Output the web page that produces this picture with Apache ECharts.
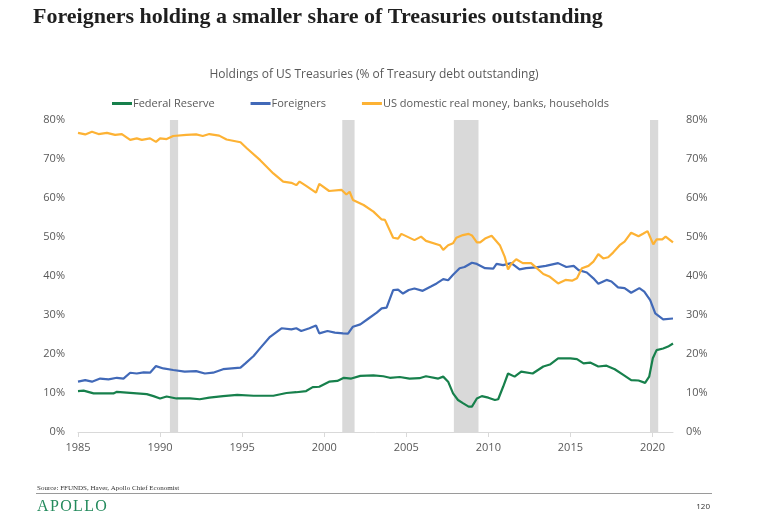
<!DOCTYPE html>
<html>
<head>
<meta charset="utf-8">
<script src="https://cdn.jsdelivr.net/npm/echarts@6/dist/echarts.min.js"></script>
<style>
html,body{margin:0;padding:0;background:#fff;}
#chart{width:768px;height:522px;}
</style>
</head>
<body>
<div id="chart"></div>
<script>
// ---- Data ----
var seriesNames = ['Federal Reserve', 'Foreigners', 'US domestic real money, banks, households'];

var fedYears = [1985.0,1985.34,1985.95,1986.56,1987.16,1987.37,1987.97,1988.58,1989.19,1989.6,1990.0,1990.4,1991.0,1991.82,1992.42,1993.0,1993.84,1994.7,1995.7,1996.9,1997.7,1998.3,1998.9,1999.3,1999.7,2000.3,2000.8,2001.2,2001.65,2002.2,2003.0,2003.6,2004.0,2004.6,2005.2,2005.8,2006.2,2006.95,2007.25,2007.55,2007.85,2008.15,2008.45,2008.8,2009.0,2009.3,2009.6,2010.0,2010.4,2010.6,2010.9,2011.2,2011.6,2012.0,2012.7,2013.35,2013.75,2014.25,2015.0,2015.4,2015.8,2016.2,2016.7,2017.2,2017.7,2018.2,2018.7,2019.15,2019.55,2019.8,2020.02,2020.25,2020.65,2020.95,2021.25];
var fedValues = [10.5,10.6,9.9,9.9,9.9,10.3,10.1,9.9,9.7,9.2,8.6,9.1,8.6,8.6,8.4,8.8,9.2,9.5,9.3,9.3,10.0,10.2,10.5,11.5,11.6,12.9,13.1,13.9,13.7,14.4,14.5,14.3,13.9,14.1,13.7,13.8,14.3,13.7,14.2,12.9,9.9,8.2,7.4,6.5,6.5,8.6,9.2,8.8,8.2,8.4,11.6,15.0,14.2,15.5,15.0,16.8,17.3,18.9,18.9,18.7,17.6,17.8,16.8,17.0,16.1,14.7,13.3,13.2,12.6,14.2,18.9,21.0,21.4,21.9,22.7];

var forYears = [1985.0,1985.44,1985.85,1986.35,1986.86,1987.37,1987.77,1988.18,1988.58,1989.0,1989.39,1989.75,1990.2,1990.8,1991.5,1992.2,1992.73,1993.23,1993.84,1994.9,1995.2,1995.7,1996.1,1996.7,1997.4,1998.0,1998.3,1998.6,1999.1,1999.5,1999.7,2000.2,2000.65,2001.15,2001.45,2001.75,2002.2,2002.7,2003.2,2003.5,2003.8,2004.2,2004.5,2004.8,2005.15,2005.5,2006.0,2006.5,2006.85,2007.25,2007.55,2007.85,2008.25,2008.55,2009.0,2009.3,2009.8,2010.3,2010.5,2010.9,2011.4,2011.9,2012.3,2012.9,2013.5,2014.25,2014.75,2015.2,2015.5,2016.0,2016.4,2016.7,2017.2,2017.5,2017.9,2018.3,2018.7,2019.2,2019.5,2019.86,2020.17,2020.65,2021.25];
var forValues = [12.9,13.3,12.9,13.7,13.5,13.9,13.7,15.2,15.0,15.3,15.2,16.9,16.3,15.9,15.5,15.6,15.0,15.2,16.1,16.5,17.6,19.5,21.5,24.4,26.6,26.3,26.6,25.9,26.6,27.3,25.3,25.9,25.5,25.3,25.2,27.0,27.6,29.1,30.6,31.7,31.9,36.4,36.5,35.5,36.4,36.8,36.2,37.3,38.1,39.2,38.9,40.3,42.0,42.3,43.4,43.1,42.0,41.9,43.1,42.8,43.3,41.7,42.0,42.2,42.6,43.3,42.3,42.6,41.5,40.9,39.4,38.0,39.0,38.6,37.1,36.9,35.7,36.9,36.0,33.8,30.4,28.9,29.1];

var domYears = [1985.0,1985.44,1985.85,1986.25,1986.76,1987.26,1987.67,1988.18,1988.58,1988.89,1989.39,1989.75,1990.0,1990.4,1990.8,1991.6,1992.2,1992.6,1993.0,1993.6,1994.05,1994.9,1995.3,1996.1,1996.9,1997.5,1998.0,1998.3,1998.5,1998.9,1999.5,1999.7,2000.3,2001.05,2001.35,2001.55,2001.75,2002.4,2003.0,2003.5,2003.7,2004.2,2004.5,2004.7,2005.5,2005.9,2006.2,2007.05,2007.25,2007.55,2007.85,2008.05,2008.45,2008.8,2009.0,2009.3,2009.5,2009.8,2010.2,2010.7,2011.0,2011.2,2011.4,2011.7,2012.1,2012.6,2012.9,2013.35,2013.75,2014.25,2014.7,2015.1,2015.4,2015.7,2016.1,2016.4,2016.7,2017.0,2017.3,2017.6,2018.0,2018.3,2018.7,2019.15,2019.45,2019.7,2020.05,2020.25,2020.6,2020.8,2021.25];
var domValues = [76.7,76.3,77.0,76.4,76.7,76.2,76.4,74.9,75.3,74.9,75.3,74.4,75.3,75.1,75.9,76.2,76.3,75.9,76.4,76.0,75.0,74.3,72.7,69.7,66.3,64.2,63.9,63.3,64.2,63.1,61.4,63.6,61.8,62.1,60.9,61.6,59.5,58.2,56.5,54.5,54.4,49.8,49.6,50.8,49.2,50.1,49.0,47.9,46.7,47.9,48.4,49.8,50.5,50.8,50.4,48.6,48.6,49.6,50.3,47.9,44.9,41.7,43.1,44.3,43.3,43.3,42.2,40.5,39.8,38.1,39.0,38.8,39.4,42.0,42.6,43.7,45.6,44.5,44.8,46.0,47.9,48.8,51.1,50.2,50.9,51.5,48.1,49.4,49.4,50.1,48.6];

var recessionStarts = [1990.6, 2001.1, 2007.9, 2019.85];
var recessionEnds   = [1991.1, 2001.85, 2009.4, 2020.35];

var xTickLabels = [1985, 1990, 1995, 2000, 2005, 2010, 2015, 2020];

// ---- Build chart ----
function pairs(xs, ys) { return xs.map(function (x, i) { return [x, ys[i]]; }); }

var colors = ['#17804c', '#4169b8', '#fdb234'];
var font = 'Open Sans';
var labelColor = '#595959';

var bands = recessionStarts.map(function (s, i) {
  return [{ xAxis: s }, { xAxis: recessionEnds[i] }];
});

var chart = echarts.init(document.getElementById('chart'), null, { renderer: 'canvas' });

var yAxisCommon = {
  type: 'value', min: 0, max: 80, interval: 10,
  axisLine: { show: false }, axisTick: { show: false }, splitLine: { show: false },
  axisLabel: { formatter: '{value}%', color: labelColor, fontFamily: font, fontSize: 11, margin: 13 }
};

chart.setOption({
  animation: false,
  color: colors,
  textStyle: { fontFamily: font },
  grid: { left: 78, right: 95, top: 120, bottom: 90, containLabel: false },
  legend: {
    data: seriesNames,
    left: 107, top: 93,
    icon: 'rect', itemWidth: 20, itemHeight: 3, itemGap: 36,
    textStyle: { color: labelColor, fontFamily: font, fontSize: 11, padding: [0, 0, 0, -4] }
  },
  xAxis: {
    type: 'value', min: 1985, max: 2021.25, interval: 5,
    axisLine: { show: true, lineStyle: { color: '#d9d9d9', width: 1 } },
    axisTick: { show: true, length: 5, lineStyle: { color: '#d9d9d9' }, customValues: xTickLabels },
    splitLine: { show: false },
    axisLabel: { color: labelColor, fontFamily: font, fontSize: 11, margin: 10, customValues: xTickLabels,
      formatter: function (v) { return String(v); } }
  },
  yAxis: [
    Object.assign({}, yAxisCommon, { position: 'left' }),
    Object.assign({}, yAxisCommon, { position: 'right' })
  ],
  series: [
    { name: 'recessions', type: 'line', data: [], z: 1, silent: true,
      markArea: { silent: true, itemStyle: { color: '#d9d9d9' }, data: bands } },
    { name: seriesNames[0], type: 'line', data: pairs(fedYears, fedValues), showSymbol: false, z: 3,
      lineStyle: { width: 2.2, color: colors[0] }, itemStyle: { color: colors[0] } },
    { name: seriesNames[1], type: 'line', data: pairs(forYears, forValues), showSymbol: false, z: 3,
      lineStyle: { width: 2.2, color: colors[1] }, itemStyle: { color: colors[1] } },
    { name: seriesNames[2], type: 'line', data: pairs(domYears, domValues), showSymbol: false, z: 3,
      lineStyle: { width: 2.2, color: colors[2] }, itemStyle: { color: colors[2] } }
  ],
  graphic: [
    { type: 'text', left: 33, top: 6,
      style: { text: 'Foreigners holding a smaller share of Treasuries outstanding',
        font: 'bold 22px "Liberation Serif", "DejaVu Serif", serif', fill: '#1f1f1f' } },
    { type: 'text', x: 374, y: 75,
      style: { text: 'Holdings of US Treasuries (% of Treasury debt outstanding)',
        font: '12px "Open Sans"', fill: labelColor, textAlign: 'center', textVerticalAlign: 'middle' } },
    { type: 'text', x: 37, y: 488,
      style: { text: 'Source: FFUNDS, Haver, Apollo Chief Economist',
        font: '7px "Liberation Serif", serif', fill: '#333', textVerticalAlign: 'middle' } },
    { type: 'line', shape: { x1: 36, y1: 493.5, x2: 712, y2: 493.5 },
      style: { stroke: '#9a9a9a', lineWidth: 1 } },
    { type: 'text', x: 37, y: 507,
      style: { text: 'A\u200AP\u200AO\u200AL\u200AL\u200AO', font: '16px "Liberation Serif", serif', fill: '#238a5c', textVerticalAlign: 'middle' } },
    { type: 'text', x: 710, y: 507,
      style: { text: '120', font: '8px "Open Sans"', fill: '#333', textAlign: 'right', textVerticalAlign: 'middle' } }
  ]
});
</script>
</body>
</html>
